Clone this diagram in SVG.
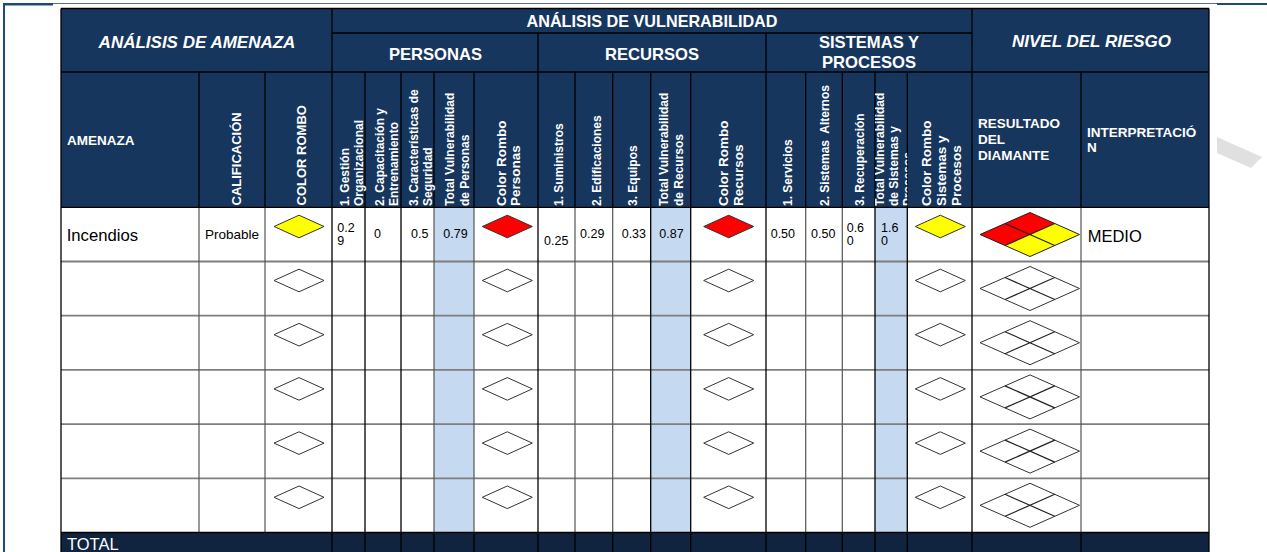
<svg xmlns="http://www.w3.org/2000/svg" width="1267" height="552" viewBox="0 0 1267 552">
<style>
.hb{font-family:"Liberation Sans",Arial,sans-serif;font-weight:bold;fill:#fff}
.hi{font-family:"Liberation Sans",Arial,sans-serif;font-weight:bold;font-style:italic;fill:#fff;font-size:17px}
.big{font-size:16.6px}
.rot{font-size:12px}
.rotc{font-size:13.5px}
.d{font-family:"Liberation Sans",Arial,sans-serif;fill:#000}
.s{font-size:12.5px}
.gl{stroke:#000;stroke-width:1.3;fill:none}
.gr{stroke:#7f7f7f;stroke-width:1.8;fill:none}
.gv{stroke:#555;stroke-width:1.2;fill:none}
.dm{stroke:#333;stroke-width:1;fill:#fff}
</style>
<defs>
<path id="dia" d="M-25,0 L0,-11.3 L25,0 L0,11.3Z"/>
<g id="bigdia">
<path d="M-50,0 L0,-22 L49.5,0 L0,22Z" fill="#fff" stroke="#333" stroke-width="1"/>
<path d="M-25,-11 L24.75,11 M24.75,-11 L-25,11" stroke="#222" stroke-width="1.2" fill="none"/>
</g>
<clipPath id="clipTS"><rect x="875" y="72" width="32.3" height="135"/></clipPath>
</defs>

<g id="page-border">
<line x1="4" y1="4" x2="4" y2="552" stroke="#1f497d" stroke-width="2"/>
<line x1="3" y1="4.2" x2="53" y2="4.2" stroke="#1f497d" stroke-width="2.5"/>
<line x1="53" y1="3.5" x2="1217" y2="3.5" stroke="#5a6f94" stroke-width="1"/>
<line x1="1217" y1="4" x2="1267" y2="4" stroke="#1f497d" stroke-width="2"/>
<polygon points="1217,137 1262,157 1251,168 1217,153" fill="#e0e0e0"/>
</g>

<g id="backgrounds">
<rect x="61" y="8.5" width="1148" height="198.8" fill="#17365d"/>
<rect x="61" y="207.3" width="1148" height="325.2" fill="#fff"/>
<rect x="434" y="207.3" width="40" height="325.2" fill="#c5d9f1"/>
<rect x="650.7" y="207.3" width="40" height="325.2" fill="#c5d9f1"/>
<rect x="875" y="207.3" width="32.3" height="325.2" fill="#c5d9f1"/>
<rect x="61" y="532.5" width="1148" height="19.5" fill="#10243f"/>
</g>

<g id="grid">
<path class="gr" d="M61,261.5H1209 M61,315.7H1209 M61,369.9H1209 M61,424.1H1209 M61,478.3H1209"/>
<path class="gv" d="M199,207.3V532.5 M265,207.3V532.5 M434,207.3V532.5 M474,207.3V532.5 M575,207.3V532.5 M612.7,207.3V532.5 M805.7,207.3V532.5 M842.3,207.3V532.5 M1081,207.3V532.5"/>
<path class="gl" d="M332,33H972 M61,72H1209 M61,207.3H1209 M61,532.5H1209
M61,8.5H1209 M61,8.5V552 M1209,8.5V552
M332,8.5V552 M972,8.5V552 M538,33V552 M766,33V552
M199,72V207.3 M265,72V207.3 M1081,72V207.3 M1081,532.5V552
M365,72V552 M401,72V552 M434,72V207.3 M434,532.5V552 M474,72V207.3 M474,532.5V552
M575,72V207.3 M575,532.5V552 M612.7,72V207.3 M612.7,532.5V552 M650.7,72V552 M690.7,72V552
M805.7,72V207.3 M805.7,532.5V552 M842.3,72V207.3 M842.3,532.5V552 M875,72V552 M907.3,72V552"/>
</g>

<g id="header-top">
<text class="hi" x="197" y="47.5" text-anchor="middle">ANÁLISIS DE AMENAZA</text>
<text class="hb" x="652" y="26.5" font-size="16.2" text-anchor="middle">ANÁLISIS DE VULNERABILIDAD</text>
<text class="hb big" x="435.5" y="60" text-anchor="middle">PERSONAS</text>
<text class="hb big" x="652" y="60" text-anchor="middle">RECURSOS</text>
<text class="hb big" x="869" y="48" text-anchor="middle">SISTEMAS Y</text>
<text class="hb big" x="869" y="67.5" text-anchor="middle">PROCESOS</text>
<text class="hi" x="1091.5" y="46.5" font-size="16.7" text-anchor="middle">NIVEL DEL RIESGO</text>
</g>

<g id="header-columns">
<text class="hb" x="67" y="145" font-size="13.5">AMENAZA</text>
<text class="hb" transform="translate(241,205.5) rotate(-90)" font-size="13">CALIFICACIÓN</text>
<text class="hb" transform="translate(306,205.5) rotate(-90)" font-size="13">COLOR ROMBO</text>
<text class="hb rot" transform="translate(348.5,206) rotate(-90)">1. Gestión</text>
<text class="hb rot" transform="translate(362.5,206) rotate(-90)">Organizacional</text>
<text class="hb rot" transform="translate(383.5,206) rotate(-90)">2. Capacitación y</text>
<text class="hb rot" transform="translate(397.5,206) rotate(-90)">Entrenamiento</text>
<text class="hb rot" transform="translate(418,206) rotate(-90)">3. Características de</text>
<text class="hb rot" transform="translate(431.5,206) rotate(-90)">Seguridad</text>
<text class="hb rot" transform="translate(454,206) rotate(-90)">Total Vulnerabilidad</text>
<text class="hb rot" transform="translate(468.5,206) rotate(-90)">de Personas</text>
<text class="hb rotc" transform="translate(506,206) rotate(-90)">Color Rombo</text>
<text class="hb rotc" transform="translate(520,206) rotate(-90)">Personas</text>
<text class="hb rot" transform="translate(563,206) rotate(-90)">1. Suministros</text>
<text class="hb rot" transform="translate(600.5,206) rotate(-90)">2. Edificaciones</text>
<text class="hb rot" transform="translate(637,206) rotate(-90)">3. Equipos</text>
<text class="hb rot" transform="translate(667.5,206) rotate(-90)">Total Vulnerabilidad</text>
<text class="hb rot" transform="translate(683,206) rotate(-90)">de Recursos</text>
<text class="hb rotc" transform="translate(728,206) rotate(-90)">Color Rombo</text>
<text class="hb rotc" transform="translate(743,206) rotate(-90)">Recursos</text>
<text class="hb rot" transform="translate(791.5,206) rotate(-90)">1. Servicios</text>
<text class="hb rot" transform="translate(829,206) rotate(-90)" xml:space="preserve">2. Sistemas  Alternos</text>
<text class="hb rot" transform="translate(863.5,206) rotate(-90)">3. Recuperación</text>
<g clip-path="url(#clipTS)">
<text class="hb rot" transform="translate(883.5,206) rotate(-90)">Total Vulnerabilidad</text>
<text class="hb rot" transform="translate(897.5,206) rotate(-90)">de Sistemas y</text>
<text class="hb rot" transform="translate(911.5,206) rotate(-90)">Procesos</text>
</g>
<text class="hb rotc" transform="translate(930.5,206) rotate(-90)">Color Rombo</text>
<text class="hb rotc" transform="translate(945.5,206) rotate(-90)">Sistemas y</text>
<text class="hb rotc" transform="translate(961,206) rotate(-90)">Procesos</text>
<text class="hb" x="978" y="128" font-size="13.5">RESULTADO</text>
<text class="hb" x="978" y="144" font-size="13.5">DEL</text>
<text class="hb" x="978" y="160" font-size="13.5">DIAMANTE</text>
<text class="hb" x="1087" y="137" font-size="13.5">INTERPRETACIÓ</text>
<text class="hb" x="1087" y="152" font-size="13.5">N</text>
</g>

<g id="row-1">
<text class="d" x="66.7" y="241" font-size="16.7">Incendios</text>
<text class="d" x="205" y="239.3" font-size="13.5">Probable</text>
<use href="#dia" x="299" y="226.5" fill="#ffff00" stroke="#333" stroke-width="1"/>
<text class="d s" x="337.3" y="231.7">0.2</text>
<text class="d s" x="337.3" y="245">9</text>
<text class="d s" x="374" y="238.3">0</text>
<text class="d s" x="411" y="238.3">0.5</text>
<text class="d s" x="443.3" y="238.3">0.79</text>
<use href="#dia" x="507.3" y="226.5" fill="#ff0000" stroke="#333" stroke-width="1"/>
<text class="d s" x="544" y="245">0.25</text>
<text class="d s" x="580" y="238.3">0.29</text>
<text class="d s" x="621.7" y="238.3">0.33</text>
<text class="d s" x="659.3" y="238.3">0.87</text>
<use href="#dia" x="728.7" y="226.5" fill="#ff0000" stroke="#333" stroke-width="1"/>
<text class="d s" x="770.7" y="238.3">0.50</text>
<text class="d s" x="811" y="238.3">0.50</text>
<text class="d s" x="846.7" y="231.7">0.6</text>
<text class="d s" x="846.7" y="245">0</text>
<text class="d s" x="881" y="231.7" fill="#333">1.6</text>
<text class="d s" x="881" y="245" fill="#333">0</text>
<use href="#dia" x="940.3" y="226.5" fill="#ffff00" stroke="#333" stroke-width="1"/>
<g id="risk-diamond-1" transform="translate(1030,234.5)">
<path d="M-50,0 L-25,-11 L0,0 L-25,11Z" fill="#ff0000"/>
<path d="M-25,-11 L0,-22 L24.75,-11 L0,0Z" fill="#ff0000"/>
<path d="M0,0 L24.75,-11 L49.5,0 L24.75,11Z" fill="#ffff00"/>
<path d="M-25,11 L0,0 L24.75,11 L0,22Z" fill="#ffff00"/>
<path d="M-50,0 L0,-22 L49.5,0 L0,22Z" fill="none" stroke="#222" stroke-width="1"/>
<path d="M-25,-11 L24.75,11 M24.75,-11 L-25,11" stroke="#222" stroke-width="1.2" fill="none"/>
</g>
<text class="d" x="1087.7" y="241.5" font-size="16.5">MEDIO</text>
</g>

<g id="row-2">
<use href="#dia" x="299" y="280.5" class="dm"/>
<use href="#dia" x="507.3" y="280.5" class="dm"/>
<use href="#dia" x="728.7" y="280.5" class="dm"/>
<use href="#dia" x="940.3" y="280.5" class="dm"/>
<use href="#bigdia" x="1030" y="288.5"/>
</g>
<g id="row-3">
<use href="#dia" x="299" y="334.7" class="dm"/>
<use href="#dia" x="507.3" y="334.7" class="dm"/>
<use href="#dia" x="728.7" y="334.7" class="dm"/>
<use href="#dia" x="940.3" y="334.7" class="dm"/>
<use href="#bigdia" x="1030" y="342.7"/>
</g>
<g id="row-4">
<use href="#dia" x="299" y="388.9" class="dm"/>
<use href="#dia" x="507.3" y="388.9" class="dm"/>
<use href="#dia" x="728.7" y="388.9" class="dm"/>
<use href="#dia" x="940.3" y="388.9" class="dm"/>
<use href="#bigdia" x="1030" y="396.9"/>
</g>
<g id="row-5">
<use href="#dia" x="299" y="443.1" class="dm"/>
<use href="#dia" x="507.3" y="443.1" class="dm"/>
<use href="#dia" x="728.7" y="443.1" class="dm"/>
<use href="#dia" x="940.3" y="443.1" class="dm"/>
<use href="#bigdia" x="1030" y="451.1"/>
</g>
<g id="row-6">
<use href="#dia" x="299" y="497.3" class="dm"/>
<use href="#dia" x="507.3" y="497.3" class="dm"/>
<use href="#dia" x="728.7" y="497.3" class="dm"/>
<use href="#dia" x="940.3" y="497.3" class="dm"/>
<use href="#bigdia" x="1030" y="505.3"/>
</g>

<g id="total-row">
<text x="67" y="550" font-family="'Liberation Sans',Arial,sans-serif" font-size="16.5" fill="#fff">TOTAL</text>
</g>
</svg>
